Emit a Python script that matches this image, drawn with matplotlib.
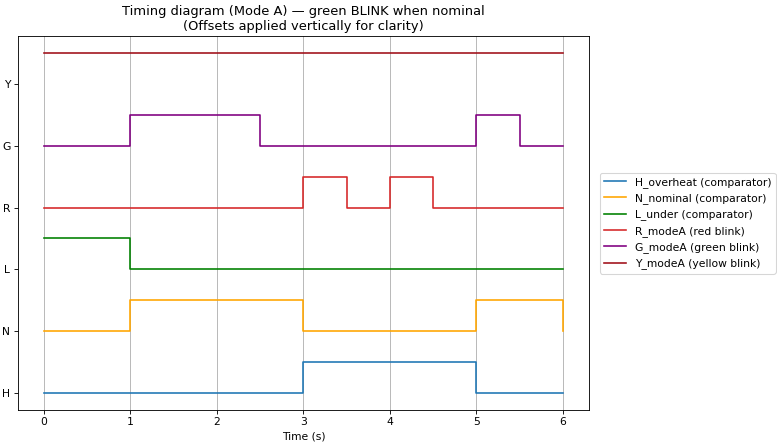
import matplotlib
matplotlib.use("Agg")
import matplotlib.pyplot as plt
import numpy as np

t = [0, 0.5, 1, 1.5, 2, 2.5, 3, 3.5, 4, 4.5, 5, 5.5, 6]
H_overheat = [0, 0, 0, 0, 0, 0, 1, 1, 1, 1, 0, 0, 0]
N_nominal  = [0, 0, 1, 1, 1, 1, 0, 0, 0, 0, 1, 1, 0]
L_under    = [1, 1, 0, 0, 0, 0, 0, 0, 0, 0, 0, 0, 0]
R_modeA    = [0, 0, 0, 0, 0, 0, 1, 0, 1, 0, 0, 0, 0]
G_modeA    = [0, 0, 1, 1, 1, 0, 0, 0, 0, 0, 1, 0, 0]
Y_modeA    = [1, 1, 1, 1, 1, 1, 1, 1, 1, 1, 1, 1, 1]

series = [
    ("H_overheat (comparator)", H_overheat, "#1f77b4"),
    ("N_nominal (comparator)", N_nominal, "orange"),
    ("L_under (comparator)", L_under, "green"),
    ("R_modeA (red blink)", R_modeA, "#d62728"),
    ("G_modeA (green blink)", G_modeA, "purple"),
    ("Y_modeA (yellow blink)", Y_modeA, "#a0101a"),
]
tick_labels = ["H", "N", "L", "R", "G", "Y"]
offset_step = 2

DPI = 77.7
fig = plt.figure(figsize=(777 / DPI, 447 / DPI), dpi=DPI)
ax = fig.add_subplot(111)
fig.subplots_adjust(left=0.023, right=0.758, top=0.919, bottom=0.083)

for i, (name, vals, col) in enumerate(series):
    off = i * offset_step
    ax.step(t, np.array(vals) + off, where="post", color=col, label=name, linewidth=1.5)

ax.set_yticks([i * offset_step for i in range(len(tick_labels))])
ax.set_yticklabels(tick_labels)
ax.set_xlabel("Time (s)")
ax.set_title("Timing diagram (Mode A) — green BLINK when nominal\n(Offsets applied vertically for clarity)")
ax.grid(True, axis="x")
ax.legend(loc="center left", bbox_to_anchor=(1.01, 0.5))

fig.savefig("out.png", dpi=DPI)
